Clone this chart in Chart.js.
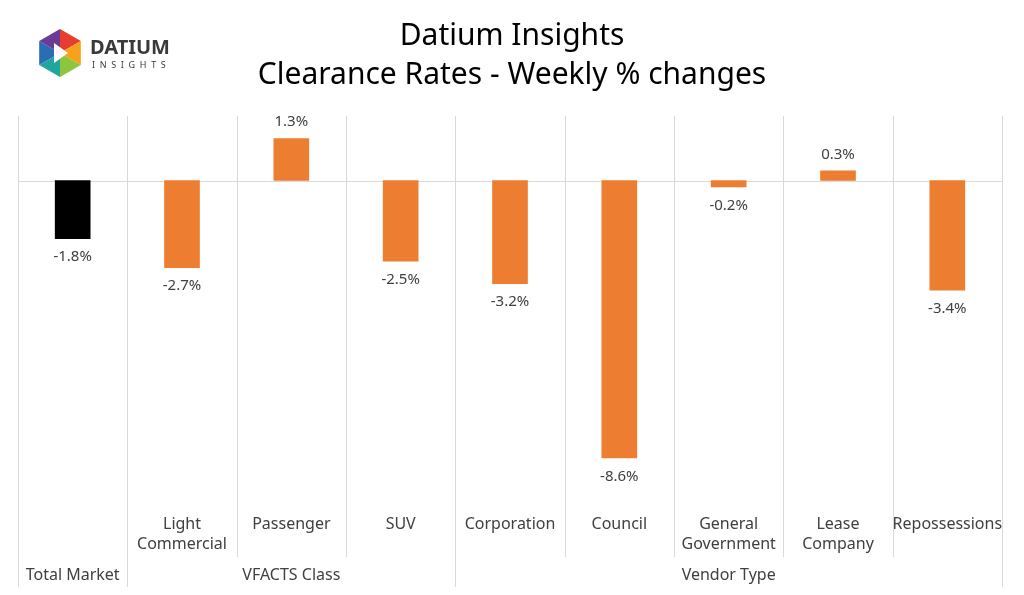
<!DOCTYPE html>
<html><head><meta charset="utf-8">
<script src="https://cdn.jsdelivr.net/npm/chart.js@4"></script>
<style>body{margin:0;background:#fff}#wrap{width:1024px;height:595px}</style>
</head><body><div id="wrap"><canvas id="c" width="1024" height="595"></canvas></div>
<script>
const categories = [['Total Market'], ['Light', 'Commercial'], ['Passenger'], ['SUV'], ['Corporation'], ['Council'], ['General', 'Government'], ['Lease', 'Company'], ['Repossessions']];
const values = [-1.8, -2.7, 1.3, -2.5, -3.2, -8.6, -0.2, 0.3, -3.4];
const groups = [['Total Market', 0, 0], ['VFACTS Class', 1, 3], ['Vendor Type', 4, 8]];
const barColors = ['#000000', '#ed7d31', '#ed7d31', '#ed7d31', '#ed7d31', '#ed7d31', '#ed7d31', '#ed7d31', '#ed7d31'];
const FONT = '"Noto Sans", sans-serif';

const decor = {
  id: 'decor',
  beforeDatasetsDraw(chart) {
    const ctx = chart.ctx, x = chart.scales.x, y = chart.scales.y, a = chart.chartArea;
    const step = x.getPixelForValue(1) - x.getPixelForValue(0);
    ctx.save();
    ctx.strokeStyle = '#d9d9d9'; ctx.lineWidth = 1;
    for (let i = 0; i <= categories.length; i++) {
      const px = Math.round(x.getPixelForValue(0) - step / 2 + i * step) + 0.5;
      const long = i === 0 || i === 1 || i === 4 || i === categories.length;
      ctx.beginPath(); ctx.moveTo(px, a.top); ctx.lineTo(px, long ? 587 : 557); ctx.stroke();
    }
    const zy = Math.round(y.getPixelForValue(0)) + 0.5;
    ctx.beginPath(); ctx.moveTo(a.left, zy); ctx.lineTo(a.right, zy); ctx.stroke();
    ctx.restore();
  },
  afterDatasetsDraw(chart) {
    const ctx = chart.ctx, x = chart.scales.x, y = chart.scales.y;
    ctx.save();
    ctx.fillStyle = '#404040'; ctx.font = '15px ' + FONT; ctx.textAlign = 'center';
    values.forEach((v, i) => {
      const px = x.getPixelForValue(i), py = y.getPixelForValue(v);
      ctx.textBaseline = v >= 0 ? 'bottom' : 'top';
      ctx.fillText(v.toFixed(1) + '%', px, v >= 0 ? py - 9 : py + 11);
    });
    ctx.font = '16px ' + FONT; ctx.textBaseline = 'middle';
    categories.forEach((lines, i) => {
      if (i === 0) return;
      const px = x.getPixelForValue(i);
      lines.forEach((t, k) => ctx.fillText(t, px, 524 + k * 20));
    });
    groups.forEach(([t, s, e]) => {
      const px = (x.getPixelForValue(s) + x.getPixelForValue(e)) / 2;
      ctx.fillText(t, px, 575);
    });
    // title
    ctx.fillStyle = '#000'; ctx.font = '30px ' + FONT;
    ctx.fillText('Datium Insights', 512, 36);
    ctx.fillText('Clearance Rates - Weekly % changes', 512, 75);
    // logo
    const cx = 60, cy = 53, r = 24;
    const cols = ['#e63d2f', '#f7a21b', '#8cc63e', '#1fa6a0', '#2a6db5', '#6a3b97'];
    for (let k = 0; k < 6; k++) {
      const a0 = -Math.PI / 2 + k * Math.PI / 3, a1 = a0 + Math.PI / 3;
      ctx.fillStyle = cols[k];
      ctx.beginPath(); ctx.moveTo(cx, cy);
      ctx.lineTo(cx + r * Math.cos(a0), cy + r * Math.sin(a0));
      ctx.lineTo(cx + r * Math.cos(a1), cy + r * Math.sin(a1));
      ctx.closePath(); ctx.fill();
    }
    ctx.fillStyle = '#fff';
    ctx.beginPath(); ctx.moveTo(cx - 6, cy - 10); ctx.lineTo(cx + 8, cy); ctx.lineTo(cx - 6, cy + 10); ctx.closePath(); ctx.fill();
    ctx.fillStyle = '#3a3a3a'; ctx.textAlign = 'left';
    ctx.font = 'bold 20px ' + FONT; ctx.fillText('DATIUM', 90, 48);
    ctx.font = '9px ' + FONT; ctx.fillText('I  N  S  I  G  H  T  S', 92, 65);
    ctx.restore();
  }
};

new Chart(document.getElementById('c'), {
  type: 'bar',
  data: {
    labels: categories.map(c => c.join(' ')),
    datasets: [{ data: values, backgroundColor: barColors, barThickness: 35 }]
  },
  options: {
    responsive: false, animation: false,
    layout: { padding: { left: 18, right: 22, top: 116, bottom: 92 } },
    plugins: { legend: { display: false }, tooltip: { enabled: false } },
    scales: {
      x: { display: false, offset: true },
      y: { display: false, min: -10, max: 2 }
    }
  },
  plugins: [decor]
});
</script></body></html>
